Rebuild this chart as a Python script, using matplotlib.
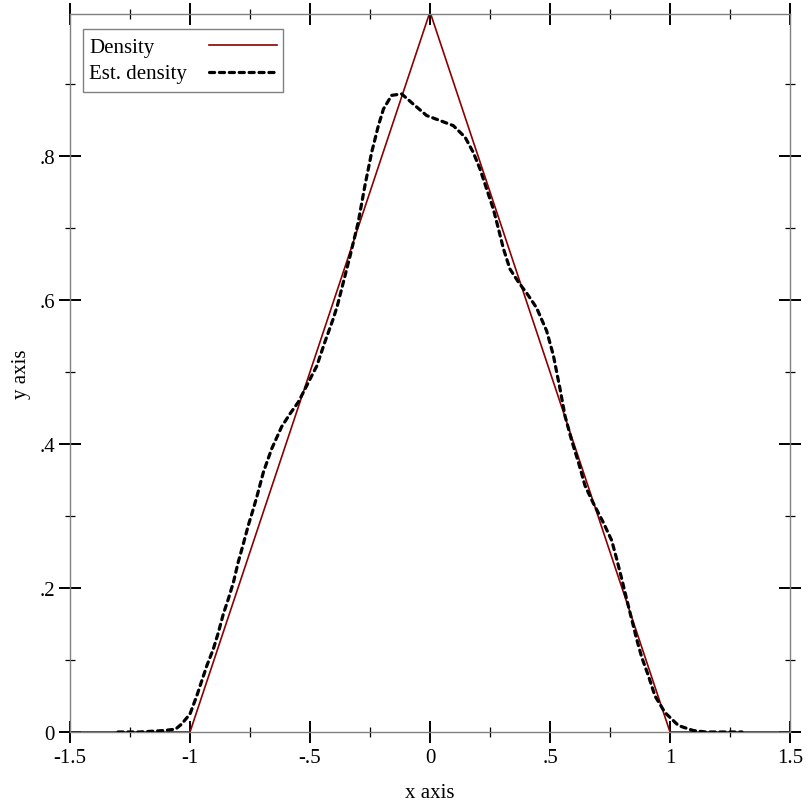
import matplotlib
matplotlib.use("Agg")
import matplotlib.pyplot as plt
from matplotlib.patches import Rectangle
from matplotlib.ticker import FixedLocator, FuncFormatter

plt.rcParams['font.family'] = ['Liberation Serif', 'DejaVu Serif']

# true triangular density
density_x = [-1.5, -1.0, 0.0, 1.0, 1.5]
density_y = [0.0, 0.0, 1.0, 0.0, 0.0]

# estimated density
est_x = [-1.30, -1.21, -1.11, -1.06, -1.035, -1.0, -0.972, -0.951, -0.93, -0.903,
         -0.882, -0.861, -0.84, -0.819, -0.799, -0.778, -0.757, -0.736, -0.722, -0.694,
         -0.66, -0.618, -0.583, -0.549, -0.521, -0.50, -0.472, -0.4375, -0.403, -0.386,
         -0.333, -0.299, -0.271, -0.243, -0.215, -0.194, -0.16, -0.118, -0.07, -0.014,
         0.042, 0.097, 0.146, 0.18, 0.208, 0.236, 0.264, 0.285, 0.306, 0.333,
         0.368, 0.41, 0.444, 0.486, 0.514, 0.542, 0.5625, 0.59, 0.618, 0.646,
         0.68, 0.722, 0.757, 0.778, 0.799, 0.819, 0.84, 0.861, 0.882, 0.91,
         0.9375, 0.979, 1.035, 1.097, 1.15, 1.30]
est_y = [0.0, 0.0, 0.002, 0.004, 0.011, 0.025, 0.05, 0.071, 0.092, 0.115,
         0.138, 0.164, 0.185, 0.208, 0.236, 0.261, 0.287, 0.31, 0.326, 0.361,
         0.393, 0.424, 0.442, 0.458, 0.476, 0.49, 0.508, 0.542, 0.574, 0.592,
         0.661, 0.708, 0.759, 0.805, 0.842, 0.865, 0.884, 0.886, 0.872, 0.856,
         0.849, 0.842, 0.826, 0.805, 0.782, 0.754, 0.726, 0.699, 0.671, 0.643,
         0.625, 0.606, 0.589, 0.557, 0.523, 0.476, 0.439, 0.405, 0.375, 0.342,
         0.318, 0.291, 0.266, 0.24, 0.2125, 0.185, 0.157, 0.129, 0.104, 0.078,
         0.05, 0.027, 0.009, 0.002, 0.0, 0.0]

x_major = [-1.5, -1.0, -0.5, 0.0, 0.5, 1.0, 1.5]
x_minor = [-1.25, -0.75, -0.25, 0.25, 0.75, 1.25]
y_major = [0.0, 0.2, 0.4, 0.6, 0.8]
y_minor = [0.1, 0.3, 0.5, 0.7, 0.9]

legend_labels = ["Density", "Est. density"]

FS = 15
RED = "#8b0000"


def racket_fmt(v, pos):
    s = ("%g" % round(v, 3))
    if s.startswith("0.") and len(s) > 2:
        s = s[1:]
    elif s.startswith("-0."):
        s = "-" + s[2:]
    return s


fig = plt.figure(figsize=(8.12, 8.12), dpi=100)
# plot area in pixels: x 70..790, y 15..733
ax = fig.add_axes([70 / 812, 1 - 733 / 812, 720 / 812, 718 / 812])


def px(X, Y):
    # reference pixel -> axes fraction
    return (X - 70) / 720, (733 - Y) / 718


dens_style = dict(color=RED, lw=1.2)
est_style = dict(color="black", lw=2.3, dashes=(1.6, 1.5), dash_capstyle="round")

ax.plot(density_x, density_y, zorder=2, **dens_style)
ax.plot(est_x, est_y, zorder=3, **est_style)

ax.set_xlim(-1.5, 1.5)
ax.set_ylim(0, 0.997)

ax.xaxis.set_major_locator(FixedLocator(x_major))
ax.xaxis.set_minor_locator(FixedLocator(x_minor))
ax.yaxis.set_major_locator(FixedLocator(y_major))
ax.yaxis.set_minor_locator(FixedLocator(y_minor))
ax.xaxis.set_major_formatter(FuncFormatter(racket_fmt))
ax.yaxis.set_major_formatter(FuncFormatter(racket_fmt))

ax.tick_params(which="both", direction="inout", top=True, right=True,
               labelsize=FS, color="black")
ax.tick_params(which="major", length=15.5, width=1.4)
ax.tick_params(which="minor", length=7.5, width=0.9)
ax.tick_params(axis="x", which="major", pad=3.5)
ax.tick_params(axis="y", which="major", pad=3)

for sp in ax.spines.values():
    sp.set_color("#808080")
    sp.set_linewidth(1.0)

ax.set_xlabel("x axis", fontsize=FS, labelpad=12)
ax.set_ylabel("y axis", fontsize=FS, labelpad=6)

# legend drawn by hand: Racket puts the label first, left-aligned
x0, y0 = px(83, 93)
x1, y1 = px(283, 30)
ax.add_patch(Rectangle((x0, y0), x1 - x0, y1 - y0, transform=ax.transAxes,
                       facecolor="white", edgecolor="#808080", lw=1.0, zorder=5))
rows = [(46, dens_style), (73, est_style)]
for label, (row_y, style) in zip(legend_labels, rows):
    tx, ty = px(89, row_y + 2)
    ax.text(tx, ty, label, transform=ax.transAxes, fontsize=FS,
            ha="left", va="center", zorder=6)
    lx0, ly = px(209, row_y)
    lx1, _ = px(277, row_y)
    ax.plot([lx0, lx1], [ly, ly], transform=ax.transAxes, zorder=6, **style)

fig.savefig("out.png", dpi=100)
